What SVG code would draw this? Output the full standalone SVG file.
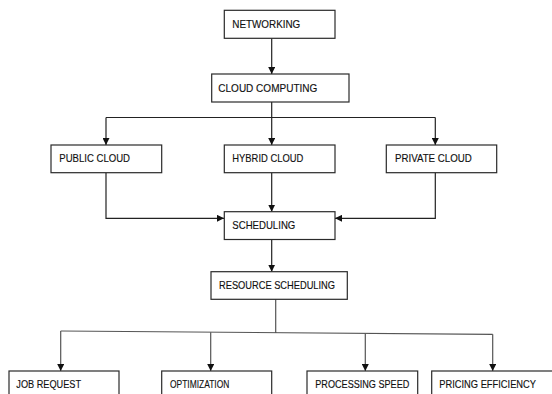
<svg xmlns="http://www.w3.org/2000/svg" width="552" height="394" viewBox="0 0 552 394">
<style>
.box{fill:#fff;stroke:#2a2a2a;stroke-width:1.2}
.lbl{font-family:"Liberation Sans",Arial,sans-serif;font-size:10.8px;fill:#111;stroke:#111;stroke-width:0.15}
.c{fill:none;stroke:#222;stroke-width:1.2}
.g{fill:none;stroke:#555;stroke-width:1.2}
</style>
<defs>
<marker id="ah" markerUnits="userSpaceOnUse" markerWidth="7" markerHeight="7" refX="7" refY="3.5" orient="auto">
<path d="M0,0 L7,3.5 L0,7 z" fill="#111"/>
</marker>
</defs>
<rect width="552" height="394" fill="#fff"/>
<g id="connectors">
<path class="c" d="M271.7,38.3 V74" marker-end="url(#ah)"/>
<path class="c" d="M271.7,102 V117.5 M106,117.5 H435.3"/>
<path class="c" d="M106,117.5 V145" marker-end="url(#ah)"/>
<path class="c" d="M271.7,117.5 V145" marker-end="url(#ah)"/>
<path class="c" d="M435.3,117.5 V145" marker-end="url(#ah)"/>
<path class="c" d="M106,172.7 V218.3 H224" marker-end="url(#ah)"/>
<path class="c" d="M271.7,172.7 V211.7" marker-end="url(#ah)"/>
<path class="c" d="M435.3,172.7 V218.3 H335" marker-end="url(#ah)"/>
<path class="c" d="M271.7,239.5 V271.7" marker-end="url(#ah)"/>
<path class="g" d="M275.7,299.3 V332.3 M60.7,331 L492.7,334.3"/>
<path class="g" d="M60.7,331 V371" marker-end="url(#ah)"/>
<path class="g" d="M210.7,332.2 V371" marker-end="url(#ah)"/>
<path class="g" d="M365.3,333.4 V371" marker-end="url(#ah)"/>
<path class="g" d="M492.7,334.3 V371" marker-end="url(#ah)"/>
</g>
<g id="networking">
<rect class="box" x="224.3" y="10.3" width="110.7" height="28"/>
<text class="lbl" x="232.3" y="27.5" textLength="68" lengthAdjust="spacingAndGlyphs">NETWORKING</text>
</g>
<g id="cloud-computing">
<rect class="box" x="211.7" y="74" width="137.3" height="28"/>
<text class="lbl" x="218.3" y="91.5" textLength="99" lengthAdjust="spacingAndGlyphs">CLOUD COMPUTING</text>
</g>
<g id="public-cloud">
<rect class="box" x="51" y="145" width="110.7" height="27.7"/>
<text class="lbl" x="59.3" y="162.3" textLength="70.7" lengthAdjust="spacingAndGlyphs">PUBLIC CLOUD</text>
</g>
<g id="hybrid-cloud">
<rect class="box" x="224.3" y="145" width="110.7" height="27.7"/>
<text class="lbl" x="232.3" y="162.3" textLength="71" lengthAdjust="spacingAndGlyphs">HYBRID CLOUD</text>
</g>
<g id="private-cloud">
<rect class="box" x="386.3" y="145" width="110.4" height="27.7"/>
<text class="lbl" x="395" y="162.3" textLength="76.7" lengthAdjust="spacingAndGlyphs">PRIVATE CLOUD</text>
</g>
<g id="scheduling">
<rect class="box" x="224.3" y="211.7" width="110.7" height="27.8"/>
<text class="lbl" x="232.3" y="229" textLength="63" lengthAdjust="spacingAndGlyphs">SCHEDULING</text>
</g>
<g id="resource-scheduling">
<rect class="box" x="211" y="271.7" width="136.3" height="27.6"/>
<text class="lbl" x="219" y="288.6" textLength="116" lengthAdjust="spacingAndGlyphs">RESOURCE SCHEDULING</text>
</g>
<g id="job-request">
<rect class="box" x="9" y="371" width="110" height="30"/>
<text class="lbl" x="16.3" y="387.5" textLength="64.7" lengthAdjust="spacingAndGlyphs">JOB REQUEST</text>
</g>
<g id="optimization">
<rect class="box" x="161.7" y="371" width="110" height="30"/>
<text class="lbl" x="170" y="387.5" textLength="59.3" lengthAdjust="spacingAndGlyphs">OPTIMIZATION</text>
</g>
<g id="processing-speed">
<rect class="box" x="307" y="371" width="110.7" height="30"/>
<text class="lbl" x="315.3" y="387.5" textLength="94" lengthAdjust="spacingAndGlyphs">PROCESSING SPEED</text>
</g>
<g id="pricing-efficiency">
<rect class="box" x="431.7" y="371" width="125" height="30"/>
<text class="lbl" x="439.3" y="387.5" textLength="96.7" lengthAdjust="spacingAndGlyphs">PRICING EFFICIENCY</text>
</g>
</svg>
